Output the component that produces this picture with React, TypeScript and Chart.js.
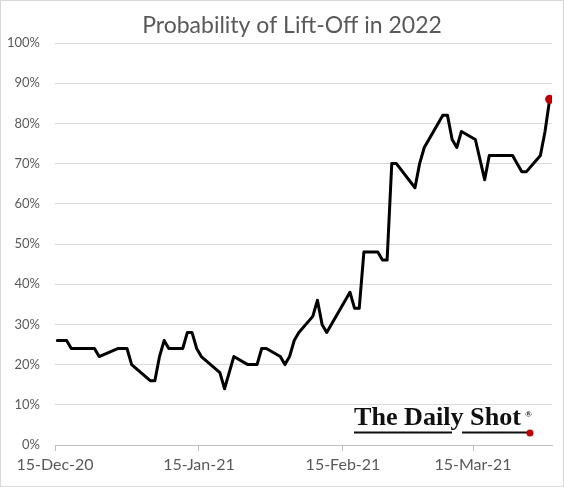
import React, { useEffect, useRef } from "react";
import { Chart, registerables } from "chart.js";

Chart.register(...registerables);

const chartTitle = "Probability of Lift-Off in 2022";
const originDate = "2020-12-15";
const axisEndDate = "2021-04-01";

const dates = [
  "2020-12-15", "2020-12-17", "2020-12-18", "2020-12-23", "2020-12-24",
  "2020-12-28", "2020-12-30", "2020-12-31", "2021-01-04", "2021-01-05",
  "2021-01-06", "2021-01-07", "2021-01-08", "2021-01-11", "2021-01-12",
  "2021-01-13", "2021-01-14", "2021-01-15", "2021-01-19", "2021-01-20",
  "2021-01-22", "2021-01-25", "2021-01-27", "2021-01-28", "2021-01-29",
  "2021-02-01", "2021-02-02", "2021-02-03", "2021-02-04", "2021-02-05",
  "2021-02-08", "2021-02-09", "2021-02-10", "2021-02-11", "2021-02-16",
  "2021-02-17", "2021-02-18", "2021-02-19", "2021-02-22", "2021-02-23",
  "2021-02-24", "2021-02-25", "2021-02-26", "2021-03-02", "2021-03-03",
  "2021-03-04", "2021-03-08", "2021-03-09", "2021-03-10", "2021-03-11",
  "2021-03-12", "2021-03-15", "2021-03-17", "2021-03-18", "2021-03-23",
  "2021-03-25", "2021-03-26", "2021-03-29", "2021-03-30", "2021-03-31",
];

const probability = [
  26, 26, 24, 24, 22,
  24, 24, 20, 16, 16,
  22, 26, 24, 24, 28,
  28, 24, 22, 18, 14,
  22, 20, 20, 24, 24,
  22, 20, 22, 26, 28,
  32, 36, 30, 28, 38,
  34, 34, 48, 48, 46,
  46, 70, 70, 64, 70,
  74, 82, 82, 76, 74,
  78, 76, 66, 72, 72,
  68, 68, 72, 78, 86,
];

const tickDates = ["2020-12-15", "2021-01-15", "2021-02-15", "2021-03-15"];
const tickLabels = ["15-Dec-20", "15-Jan-21", "15-Feb-21", "15-Mar-21"];
const yTickValues = [0, 10, 20, 30, 40, 50, 60, 70, 80, 90, 100];

const watermarkText = "The Daily Shot";

function dayOffset(s: string): number {
  const [y, m, d] = s.split("-").map(Number);
  const [y0, m0, d0] = originDate.split("-").map(Number);
  return (Date.UTC(y, m - 1, d) - Date.UTC(y0, m0 - 1, d0)) / 86400000;
}

const decorPlugin = {
  id: "decor",
  afterDraw(chart: any) {
    const ctx = chart.ctx as CanvasRenderingContext2D;
    const W = chart.width;
    const H = chart.height;
    ctx.save();
    // outer border
    ctx.strokeStyle = "#d9d9d9";
    ctx.lineWidth = 1;
    ctx.strokeRect(0.5, 0.5, W - 1, H - 1);

    // title
    ctx.fillStyle = "#595959";
    ctx.font = "23px Lato";
    ctx.textAlign = "center";
    ctx.textBaseline = "alphabetic";
    ctx.fillText(chartTitle, 292, 33);

    // watermark
    const left = 354;
    const targetW = 167;
    ctx.font = "bold 26px 'Liberation Serif'";
    const mw = ctx.measureText(watermarkText).width;
    const fs = (26 * targetW) / mw;
    ctx.font = `bold ${fs.toFixed(2)}px 'Liberation Serif'`;
    ctx.fillStyle = "#111111";
    ctx.textAlign = "left";
    ctx.fillText(watermarkText, left, 425);
    ctx.font = "bold 9px 'Liberation Serif'";
    ctx.fillText("®", left + targetW + 4, 417);
    ctx.strokeStyle = "#111111";
    ctx.lineWidth = 2;
    ctx.beginPath();
    ctx.moveTo(left, 432.5);
    ctx.lineTo(452, 432.5);
    ctx.moveTo(462, 432.5);
    ctx.lineTo(529, 432.5);
    ctx.stroke();
    ctx.fillStyle = "#c00000";
    ctx.beginPath();
    ctx.arc(530, 433, 3.5, 0, Math.PI * 2);
    ctx.fill();
    ctx.restore();
  },
};

export default function App() {
  const ref = useRef<HTMLCanvasElement | null>(null);

  useEffect(() => {
    document.body.style.margin = "0";
    if (!ref.current) return;
    const points = dates.map((d, i) => ({ x: dayOffset(d) + 0.5, y: probability[i] }));
    const lastIndex = points.length - 1;
    const tickPositions = tickDates.map(dayOffset);

    const chart = new Chart(ref.current, {
      type: "line",
      data: {
        datasets: [
          {
            data: points,
            borderColor: "#000000",
            borderWidth: 3,
            borderJoinStyle: "round",
            borderCapStyle: "round",
            tension: 0,
            pointRadius: (c: any) => (c.dataIndex === lastIndex ? 4.5 : 0),
            pointBackgroundColor: "#c00000",
            pointBorderColor: "#c00000",
            pointBorderWidth: 0,
            fill: false,
          },
        ],
      },
      options: {
        responsive: false,
        animation: false,
        devicePixelRatio: 1,
        layout: { padding: { top: 43, right: 12, left: 0, bottom: 0 } },
        plugins: {
          legend: { display: false },
          title: { display: false },
          tooltip: { enabled: false },
        },
        scales: {
          x: {
            type: "linear",
            min: 0,
            max: dayOffset(axisEndDate),
            afterBuildTicks: (scale: any) => {
              scale.ticks = tickPositions.map((v) => ({ value: v }));
            },
            afterFit: (scale: any) => {
              scale.height = 42;
            },
            ticks: {
              autoSkip: false,
              maxRotation: 0,
              minRotation: 0,
              padding: 4,
              color: "#595959",
              font: { family: "Lato", size: 16 },
              callback: (v: any) => {
                const i = tickPositions.indexOf(Number(v));
                return i >= 0 ? tickLabels[i] : "";
              },
            },
            grid: {
              drawOnChartArea: false,
              drawTicks: true,
              tickLength: 6,
              color: "#bfbfbf",
            },
            border: { display: true, color: "#bfbfbf", width: 1 },
          },
          y: {
            min: 0,
            max: 100,
            afterBuildTicks: (scale: any) => {
              scale.ticks = yTickValues.map((v) => ({ value: v }));
            },
            afterFit: (scale: any) => {
              scale.width = 55;
            },
            ticks: {
              padding: 15,
              color: "#595959",
              font: { family: "Lato", size: 13 },
              callback: (v: any) => `${v}%`,
            },
            grid: { color: "#d9d9d9", drawTicks: false, lineWidth: 1 },
            border: { display: false },
          },
        },
      },
      plugins: [decorPlugin],
    } as any);

    return () => chart.destroy();
  }, []);

  return (
    <div style={{ width: 564, height: 487, background: "#ffffff" }}>
      <canvas ref={ref} width={564} height={487} />
    </div>
  );
}
